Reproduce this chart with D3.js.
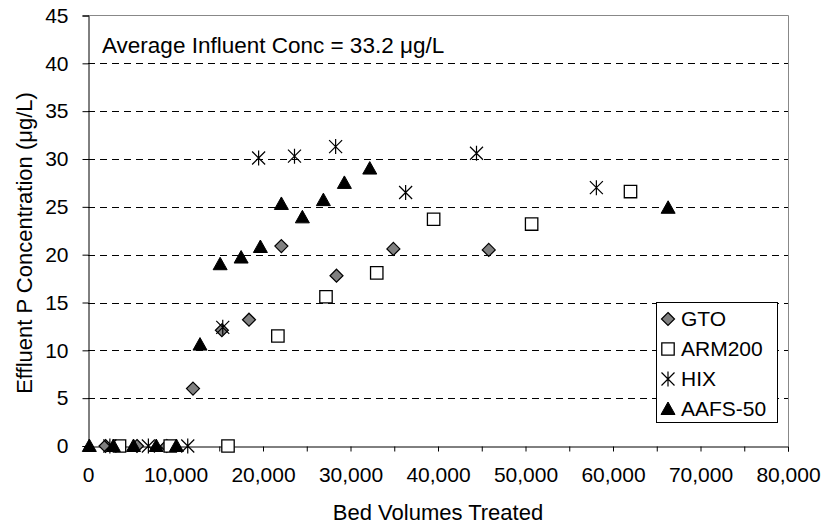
<!DOCTYPE html>
<html>
<head>
<meta charset="utf-8">
<script src="https://cdn.jsdelivr.net/npm/d3@7"></script>
<style>
  html, body { margin: 0; padding: 0; background: #fff; }
  svg { display: block; }
  text { font-family: "Liberation Sans", Arial, sans-serif; fill: #000; }
</style>
</head>
<body>
<svg id="chart" width="827" height="529"></svg>
<script>
// ---- data ----
const seriesNames = ["GTO", "ARM200", "HIX", "AAFS-50"];
const gtoX   = [2000, 5600, 9000, 12000, 15300, 18400, 22100, 28400, 34900, 45800];
const gtoY   = [0, 0, 0, 6.0, 12.1, 13.2, 20.9, 17.8, 20.6, 20.5];
const armX   = [3600, 9400, 16000, 21700, 27200, 33000, 39500, 50700, 62000];
const armY   = [0, 0, 0, 11.5, 15.6, 18.1, 23.7, 23.2, 26.6];
const hixX   = [2500, 6900, 11400, 15400, 19500, 23600, 28300, 36300, 44400, 58100];
const hixY   = [0, 0, 0, 12.4, 30.1, 30.3, 31.3, 26.5, 30.6, 27.0];
const aafsX  = [150, 2900, 5200, 7800, 10100, 12800, 15100, 17500, 19700, 22100, 24500, 26900, 29300, 32200, 66300];
const aafsY  = [0, 0, 0, 0, 0, 10.6, 19.0, 19.7, 20.8, 25.3, 23.9, 25.7, 27.5, 29.0, 24.9];
const yTicks = [0, 5, 10, 15, 20, 25, 30, 35, 40, 45];
const xTicks = [0, 10000, 20000, 30000, 40000, 50000, 60000, 70000, 80000];
const xMinorTicks = [5000, 15000, 25000, 35000, 45000, 55000, 65000, 75000];
const xTitle = "Bed Volumes Treated";
const yTitle = "Effluent P Concentration (\u03bcg/L)";
const note = "Average Influent Conc = 33.2 \u03bcg/L";

// ---- layout ----
const svg = d3.select("#chart");
const L = 88, R = 788, T = 15.5, B = 446;
const FS = 21;
const x = d3.scaleLinear().domain([0, 80000]).range([L, R]);
const y = d3.scaleLinear().domain([0, 45]).range([B, T]);

// gridlines
svg.append("g").selectAll("line").data(yTicks.filter(v => v > 0 && v < 45)).join("line")
  .attr("x1", L).attr("x2", R)
  .attr("y1", d => Math.round(y(d)) + 0.5).attr("y2", d => Math.round(y(d)) + 0.5)
  .attr("stroke", "#000").attr("stroke-width", 1).attr("stroke-dasharray", "7,5");

// frame top/right (gray)
svg.append("path")
  .attr("d", `M${L},${T}H${R + 0.5}V${B}`)
  .attr("fill", "none").attr("stroke", "#888").attr("stroke-width", 1);

// y axis
const yAxis = d3.axisLeft(y).tickValues(yTicks).tickSize(6).tickPadding(14).tickFormat(d3.format("d"));
const gy = svg.append("g").attr("transform", `translate(${L + 0.5},0)`).call(yAxis);
gy.select(".domain").attr("stroke", "#000");
gy.selectAll("text").style("font-size", FS + "px").attr("font-family", "Liberation Sans, Arial, sans-serif");

// x axis
const xAxis = d3.axisBottom(x).tickValues(xTicks).tickSize(5).tickPadding(16).tickFormat(d3.format(","));
const gx = svg.append("g").attr("transform", `translate(0,${B + 0.5})`).call(xAxis);
gx.select(".domain").attr("stroke", "#000");
gx.selectAll("text").style("font-size", FS + "px").attr("font-family", "Liberation Sans, Arial, sans-serif");
svg.append("g").attr("transform", `translate(0,${B + 0.5})`)
  .call(d3.axisBottom(x).tickValues(xMinorTicks).tickSize(5).tickFormat(""))
  .select(".domain").remove();

// titles
svg.append("text").attr("x", (L + R) / 2).attr("y", 520).attr("text-anchor", "middle")
  .style("font-size", "22px").text(xTitle);
svg.append("text").attr("transform", `translate(32,243) rotate(-90)`)
  .attr("text-anchor", "middle")
  .style("font-size", "22px").text(yTitle);
svg.append("text").attr("x", 102).attr("y", 53).style("font-size", "22.5px").text(note);

// marker shapes
const s = 6.5;
function diamond(cx, cy) { return `M${cx},${cy - s}L${cx + s},${cy}L${cx},${cy + s}L${cx - s},${cy}Z`; }
function square(cx, cy) { const h = 6.2; return `M${cx - h},${cy - h}H${cx + h}V${cy + h}H${cx - h}Z`; }
function star(cx, cy) { const h = 6.5; return `M${cx - h},${cy - h}L${cx + h},${cy + h}M${cx - h},${cy + h}L${cx + h},${cy - h}M${cx},${cy - h - 1}V${cy + h + 1}`; }
function tri(cx, cy) { const h = 6.5; return `M${cx},${cy - h - 0.5}L${cx + h + 0.5},${cy + h - 1}L${cx - h - 0.5},${cy + h - 1}Z`; }

const series = [
  { name: seriesNames[0], xs: gtoX, ys: gtoY, shape: diamond, fill: "#808080", stroke: "#000", sw: 1.2 },
  { name: seriesNames[1], xs: armX, ys: armY, shape: square, fill: "#fff", stroke: "#000", sw: 1.3 },
  { name: seriesNames[2], xs: hixX, ys: hixY, shape: star, fill: "none", stroke: "#000", sw: 1.2 },
  { name: seriesNames[3], xs: aafsX, ys: aafsY, shape: tri, fill: "#000", stroke: "#000", sw: 1 }
];

series.forEach(se => {
  svg.append("g").selectAll("path").data(se.xs.map((v, i) => [v, se.ys[i]])).join("path")
    .attr("d", d => se.shape(x(d[0]), y(d[1])))
    .attr("fill", se.fill).attr("stroke", se.stroke).attr("stroke-width", se.sw);
});

// legend
const lg = svg.append("g");
const lx = 656, ly = 302, lw = 121, lh = 120;
lg.append("rect").attr("x", lx + 0.5).attr("y", ly + 0.5).attr("width", lw).attr("height", lh)
  .attr("fill", "#fff").attr("stroke", "#000").attr("stroke-width", 1);
series.forEach((se, i) => {
  const cy = ly + 17 + i * 30;
  lg.append("path").attr("d", se.shape(lx + 12, cy))
    .attr("fill", se.fill).attr("stroke", se.stroke).attr("stroke-width", se.sw);
  lg.append("text").attr("x", lx + 25).attr("y", cy).attr("dy", "0.35em")
    .style("font-size", FS + "px").text(se.name);
});
</script>
</body>
</html>
